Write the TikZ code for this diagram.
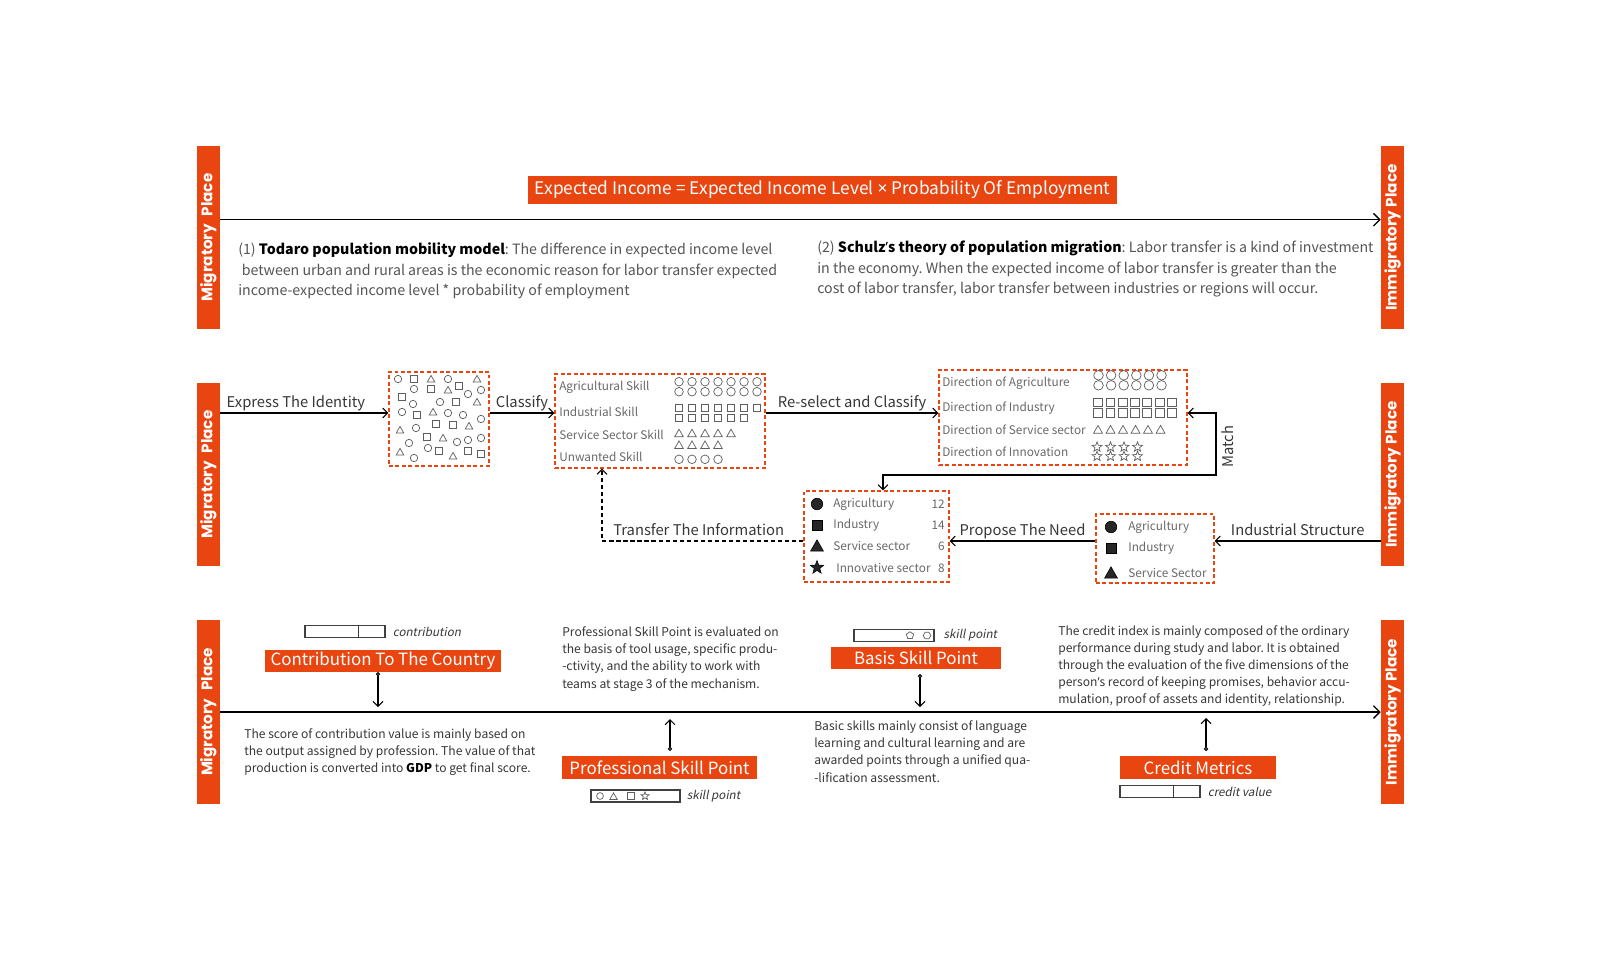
\documentclass[tikz,border=0pt]{standalone}
\usepackage{fontspec}
\setmainfont{Noto Sans CJK SC}[AutoFakeSlant=0.2]
\newfontfamily\barfont{Poppins}
\newfontfamily\latinfont{Noto Sans}
\usepackage{xcolor}
\usepackage{tikz}
\usetikzlibrary{arrows.meta,positioning}

\definecolor{accent}{RGB}{233,69,17}
\definecolor{bodygray}{RGB}{85,85,85}
\definecolor{darkgray}{RGB}{55,55,55}
\definecolor{boxgray}{RGB}{105,105,105}
\definecolor{shapegray}{RGB}{95,95,95}

\newcommand{\keyterm}[1]{\textcolor{black}{\textbf{#1}}}
\newcommand{\apos}{{\latinfont ’}}
\newcommand{\timessign}{{\latinfont ×}}
% icons: style, x, y (pixels from top), size
\newcommand{\icC}[4]{\draw[#1] (#2,-#3) circle[radius=#4];}
\newcommand{\icS}[4]{\draw[#1] (#2-#4,-#3-#4) rectangle (#2+#4,-#3+#4);}
\newcommand{\icT}[4]{\draw[#1] (#2-#4,-#3-0.8*#4) -- (#2+#4,-#3-0.8*#4) -- (#2,-#3+0.95*#4) -- cycle;}
\newcommand{\icR}[4]{\draw[#1] (#2,-#3) +(90:#4) -- +(126:{0.42*#4}) -- +(162:#4) -- +(198:{0.42*#4}) -- +(234:#4) -- +(270:{0.42*#4}) -- +(306:#4) -- +(342:{0.42*#4}) -- +(18:#4) -- +(54:{0.42*#4}) -- cycle;}
\newcommand{\icP}[4]{\draw[#1] (#2,-#3) +(90:#4) -- +(162:#4) -- +(234:#4) -- +(306:#4) -- +(18:#4) -- cycle;}
\newcommand{\icH}[4]{\draw[#1] (#2,-#3) +(0:#4) -- +(60:#4) -- +(120:#4) -- +(180:#4) -- +(240:#4) -- +(300:#4) -- cycle;}

\begin{document}
\frenchspacing
\begin{tikzpicture}[x=0.025cm, y=0.025cm,
    sidebar/.style={fill=accent, text=white, rotate=90, inner sep=0, minimum width=4.575cm, minimum height=0.575cm, font=\barfont\bfseries\fontsize{10.8}{12}\selectfont},
    tag/.style={fill=accent, text=white, inner sep=0, minimum height=0.55cm, font=\fontsize{12}{13}\selectfont},
    dbox/.style={draw=accent, dash pattern=on 2.8pt off 1.8pt, line width=0.9pt, inner sep=0},
    valbar/.style={draw=black!75, line width=0.8pt, minimum width=2cm, minimum height=0.32cm, inner sep=0},
    para/.style={align=left, inner sep=0, anchor=west, text=bodygray, font=\fontsize{10.1}{14.4}\selectfont},
    note/.style={align=left, inner sep=0, anchor=west, text=darkgray, font=\fontsize{8.6}{12.2}\selectfont},
    boxtxt/.style={inner sep=0, anchor=west, text=boxgray, font=\fontsize{8.4}{9}\selectfont},
    flowtxt/.style={text=darkgray, inner sep=1.5pt, text height=0.75em, text depth=0.22em, font=\fontsize{10.5}{12}\selectfont},
    small/.style={inner sep=0, text=darkgray, font=\itshape\fontsize{8.3}{10}\selectfont},
    shp/.style={draw=shapegray, line width=0.5pt},
    shpf/.style={fill=black!85},
    mainline/.style={line width=0.9pt, -{Straight Barb[length=4.5pt,width=9pt]}},
    arrow/.style={line width=0.75pt, -{Straight Barb[length=3.5pt,width=7pt]}},
    both/.style={line width=0.75pt, {Straight Barb[length=3.5pt,width=7pt]}-{Straight Barb[length=3.5pt,width=7pt]}},
    pin/.style={line width=0.75pt, {Circle[open,length=3pt,width=3pt]}-{Straight Barb[length=3.5pt,width=7pt]}}
]
\fill[white] (0,0) rectangle (1602,-962);
\useasboundingbox (0,0) rectangle (1602,-962);

% side bars
\node[sidebar] (mig1) at (208.5,-237.5) {Migratory\enspace Place};
\node[sidebar] (mig2) at (208.5,-474.5) {Migratory\enspace Place};
\node[sidebar] (mig3) at (208.5,-712) {Migratory\enspace Place};
\node[sidebar] (imm1) at (1392.5,-237.5) {Immigratory Place};
\node[sidebar] (imm2) at (1392.5,-474.5) {Immigratory Place};
\node[sidebar] (imm3) at (1392.5,-712) {Immigratory Place};

% row 1: theory
\node[tag, minimum width=14.72cm, minimum height=0.7cm, font=\fontsize{12.3}{14}\selectfont] (income) at (822.5,-190) {Expected Income = Expected Income Level \timessign{} Probability Of Employment};
\draw[mainline] ([yshift=0.445cm]mig1.south) -- ([yshift=0.445cm]imm1.north);
\node[para] (todaro) at (238,-271) {(1) \keyterm{Todaro population mobility model}: The difference in expected income level\\
\hspace*{0.25em}between urban and rural areas is the economic reason for labor transfer expected\\
income-expected income level * probability of employment};
\node[para] (schulz) at (817,-269) {(2) \keyterm{Schulz\apos s theory of population migration}: Labor transfer is a kind of investment\\
in the economy. When the expected income of labor transfer is greater than the\\
cost of labor transfer, labor transfer between industries or regions will occur.};

% row 2: classification and matching
\coordinate (r2) at (0,-413);
\coordinate (r4) at (0,-541);
\node[dbox, minimum width=2.5cm, minimum height=2.35cm] (idbox) at (439,-419) {};
\node[dbox, minimum width=5.25cm, minimum height=2.35cm] (skbox) at (660,-421) {};
\node[dbox, minimum width=6.2cm, minimum height=2.375cm] (dirbox) at (1063,-417.5) {};
\node[dbox, minimum width=3.625cm, minimum height=2.275cm] (needbox) at (876.5,-536.5) {};
\node[dbox, minimum width=2.95cm, minimum height=1.725cm] (indbox) at (1155,-548.5) {};

% mixed identities
\foreach \x/\y in {398/379, 448/379, 414/389, 468/394, 481/390, 413/404, 440/402, 402/412, 448/413, 463/415, 481/419, 416/428, 457/442, 468/440, 481/438, 409/443, 428/448, 414/458}
  {\icC{shp}{\x}{\y}{3.7}}
\foreach \x/\y in {414/379, 402/397, 431/389, 459/386, 456/402, 417/415, 436/424, 453/425, 427/437, 439/451, 468/451, 481/454}
  {\icS{shp}{\x}{\y}{3.3}}
\foreach \x/\y in {431/379, 477/379, 448/390, 477/402, 433/412, 400/430, 469/426, 443/438, 400/452, 453/456}
  {\icT{shp}{\x}{\y}{3.8}}

% skills
\node[boxtxt] (agsk) at (559,-387) {Agricultural Skill};
\node[boxtxt] (insk) at (559,-412) {Industrial Skill};
\node[boxtxt] (sesk) at (559,-435) {Service Sector Skill};
\node[boxtxt] (unsk) at (559,-457) {Unwanted Skill};
\foreach \i in {0,...,6} {\icC{shp}{679+13*\i}{381.7}{4.3} \icC{shp}{679+13*\i}{391.7}{4.3} \icS{shp}{679+13*\i}{407.7}{3.7}}
\foreach \i in {0,...,5} {\icS{shp}{679+13*\i}{417.7}{3.7}}
\foreach \i in {0,...,4} {\icT{shp}{679+13*\i}{433.3}{4.3}}
\foreach \i in {0,...,3} {\icT{shp}{679+13*\i}{445}{4.3} \icC{shp}{679+13*\i}{459.3}{4.3}}

% directions
\node[boxtxt] (agdir) at (942,-383) {Direction of Agriculture};
\node[boxtxt] (indir) at (942,-408) {Direction of Industry};
\node[boxtxt] (sedir) at (942,-430) {Direction of Service sector};
\node[boxtxt] (indv) at (942,-451.6) {Direction of Innovation};
\foreach \i in {0,...,5} {\icC{shp}{1098.5+12.6*\i}{375.3}{4.8} \icC{shp}{1098.5+12.6*\i}{385.3}{4.8} \icT{shp}{1098+12.5*\i}{429.7}{4.5}}
\foreach \i in {0,...,6} {\icS{shp}{1098+12.3*\i}{402.3}{4.4} \icS{shp}{1098+12.3*\i}{413}{4.4}}
\foreach \i in {0,...,3} {\icR{shp}{1097+13.5*\i}{447}{5.2} \icR{shp}{1097+13.5*\i}{456.3}{5.2}}

% demand
\icC{shpf}{817}{504}{5.8}
\icS{shpf}{817}{525}{5}
\icT{shpf}{817}{546}{6.5}
\icR{shpf}{817}{567.5}{7}
\node[boxtxt] (agneed) at (833,-504) {Agricultury};
\node[boxtxt] (inneed) at (833,-525) {Industry};
\node[boxtxt] (seneed) at (833,-546) {Service sector};
\node[boxtxt] (inveed) at (836,-568) {Innovative sector};
\node[boxtxt, anchor=east] (nagr) at (945,-504) {12};
\node[boxtxt, anchor=east] (nind) at (945,-525) {14};
\node[boxtxt, anchor=east] (nser) at (945,-546) {6};
\node[boxtxt, anchor=east] (ninn) at (945,-568) {8};

% industrial structure
\icC{shpf}{1111}{527}{5.8}
\icS{shpf}{1111}{548}{5}
\icT{shpf}{1111}{573}{6.5}
\node[boxtxt] (agind) at (1128,-527) {Agricultury};
\node[boxtxt] (inind) at (1128,-548) {Industry};
\node[boxtxt] (seind) at (1128,-573) {Service Sector};

% flow
\draw[arrow] (mig2.south |- r2) -- node[flowtxt, above, pos=0.45] {Express The Identity} (idbox.west |- r2);
\draw[arrow] (idbox.east |- r2) -- node[flowtxt, above] {Classify} (skbox.west |- r2);
\draw[arrow] (skbox.east |- r2) -- node[flowtxt, above] {Re-select and Classify} (dirbox.west |- r2);
\coordinate (mt) at (1216,-475);
\coordinate (mb) at (883,-475);
\draw[both] (dirbox.east |- r2) -| (mt) -- (mb) -- (mb |- needbox.north);
\node[flowtxt, rotate=90] (match) at (1230,-447) {Match};
\draw[arrow] (imm2.north |- r4) -- node[flowtxt, above] {Industrial Structure} (indbox.east |- r4);
\draw[arrow] (indbox.west |- r4) -- node[flowtxt, above] {Propose The Need} (needbox.east |- r4);
\coordinate (tb) at (602,-541);
\draw[arrow, dash pattern=on 3pt off 2pt] (needbox.west |- r4) -- node[flowtxt, above, pos=0.52] {Transfer The Information} (tb) -- (tb |- skbox.south);

% row 3: points
\draw[mainline] (mig3.south) -- (imm3.north);

\node[tag, minimum width=5.9cm] (ctag) at (383,-661) {Contribution To The Country};
\node[tag, minimum width=4.875cm, minimum height=0.575cm] (ptag) at (659.5,-767.5) {Professional Skill Point};
\node[tag, minimum width=4.25cm] (btag) at (916,-658) {Basis Skill Point};
\node[tag, minimum width=3.9cm, minimum height=0.575cm] (mtag) at (1198,-767.5) {Credit Metrics};

\node[valbar] (cbar) at (345,-631.5) {};
\draw[black!75, line width=0.8pt] ([xshift=1.35cm]cbar.north west) -- ([xshift=1.35cm]cbar.south west);
\node[small, right=0.175cm of cbar] (clab) {contribution};

\node[valbar, minimum width=2.225cm, minimum height=0.3cm] (sbar) at (635.5,-796) {};
\icC{shp}{600}{796}{3.4}
\icT{shp}{613.5}{796.5}{3.8}
\icS{shp}{631}{796}{3.2}
\icR{shp}{645}{796}{4.2}
\node[small, right=0.15cm of sbar] (slab) {skill point};

\node[valbar] (bbar) at (894,-635.5) {};
\icP{shp}{910}{635.5}{3.8}
\icH{shp}{927}{635.5}{3.8}
\node[small, right=0.22cm of bbar] (blab) {skill point};

\node[valbar] (mbar) at (1160,-791.5) {};
\draw[black!75, line width=0.8pt] ([xshift=1.35cm]mbar.north west) -- ([xshift=1.35cm]mbar.south west);
\node[small, right=0.175cm of mbar] (mlab) {credit value};

\coordinate (cstart) at (378,-672);
\coordinate (cend) at (378,-707);
\coordinate (pstart) at (670,-751);
\coordinate (pend) at (670,-719);
\coordinate (bstart) at (920,-674);
\coordinate (bend) at (920,-707);
\coordinate (mstart) at (1206,-751);
\coordinate (mend) at (1206,-718);
\draw[pin] (cstart) -- (cend);
\draw[pin] (pstart) -- (pend);
\draw[pin] (bstart) -- (bend);
\draw[pin] (mstart) -- (mend);

\node[note] (ctxt) at (244,-752) {The score of contribution value is mainly based on\\
the output assigned by profession. The value of that\\
production is converted into \keyterm{GDP} to get final score.};
\node[note] (ptxt) at (562,-659) {Professional Skill Point is evaluated on\\
the basis of tool usage, specific produ-\\
-ctivity, and the ability to work with\\
teams at stage 3 of the mechanism.};
\node[note] (btxt) at (814,-751.5) {Basic skills mainly consist of language\\
learning and cultural learning and are\\
awarded points through a unified qua-\\
-lification assessment.};
\node[note] (mtxt) at (1058,-666) {The credit index is mainly composed of the ordinary\\
performance during study and labor. It is obtained\\
through the evaluation of the five dimensions of the\\
person\apos s record of keeping promises, behavior accu-\\
mulation, proof of assets and identity, relationship.};
\end{tikzpicture}
\end{document}
